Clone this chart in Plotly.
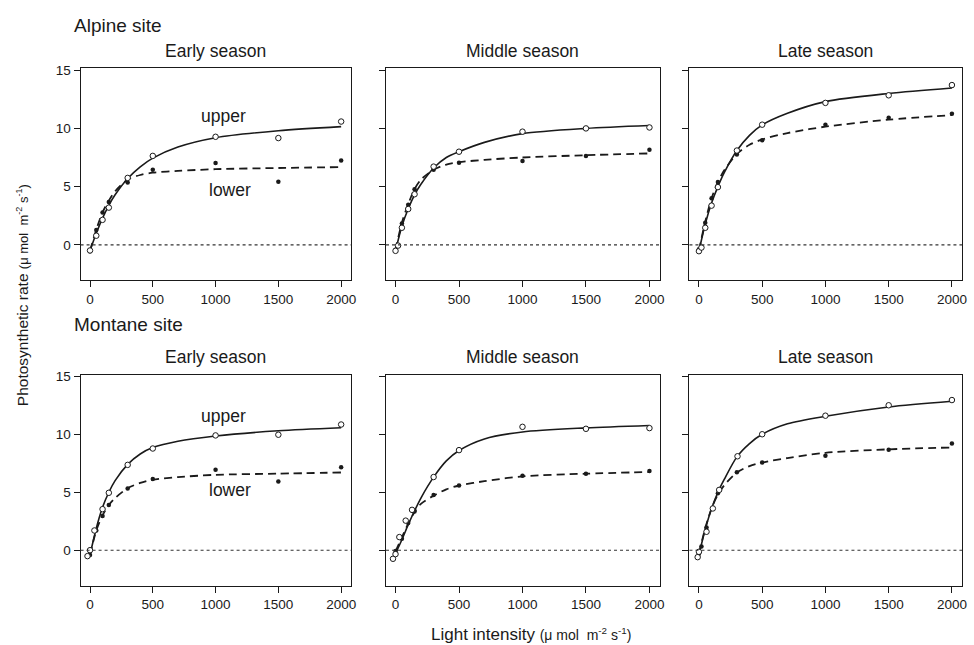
import plotly.graph_objects as go

# ---------------- data ----------------
panel_titles = ["Early season", "Middle season", "Late season",
                "Early season", "Middle season", "Late season"]
site_titles = ["Alpine site", "Montane site"]

# observed points: upper canopy (open circles) and lower canopy (filled dots)
upper_x = [
    [0, 50, 100, 150, 300, 500, 1000, 1500, 2000],
    [0, 20, 50, 100, 150, 300, 500, 1000, 1500, 2000],
    [0, 20, 50, 100, 150, 300, 500, 1000, 1500, 2000],
    [-20, 0, 35, 100, 150, 300, 500, 1000, 1500, 2000],
    [-20, 0, 30, 80, 130, 300, 500, 1000, 1500, 2000],
    [-10, 0, 60, 110, 160, 305, 500, 1000, 1500, 2000],
]
upper_y = [
    [-0.48, 0.79, 2.15, 3.2, 5.75, 7.64, 9.28, 9.17, 10.59],
    [-0.51, -0.06, 1.47, 3.08, 4.35, 6.72, 8.0, 9.72, 10.0, 10.08],
    [-0.54, -0.23, 1.47, 3.37, 4.96, 8.1, 10.32, 12.19, 12.84, 13.72],
    [-0.51, 0.0, 1.7, 3.54, 4.95, 7.36, 8.77, 9.9, 9.96, 10.84],
    [-0.74, -0.34, 1.13, 2.55, 3.48, 6.31, 8.63, 10.64, 10.47, 10.53],
    [-0.6, -0.14, 1.59, 3.6, 5.2, 8.1, 10.0, 11.6, 12.5, 12.95],
]
lower_x = [
    [0, 50, 100, 150, 300, 500, 1000, 1500, 2000],
    [0, 50, 100, 150, 300, 500, 1000, 1500, 2000],
    [0, 50, 100, 150, 300, 500, 1000, 1500, 2000],
    [0, 50, 100, 150, 300, 500, 1000, 1500, 2000],
    [0, 50, 100, 150, 300, 500, 1000, 1500, 2000],
    [0, 20, 60, 150, 300, 500, 1000, 1500, 2000],
]
lower_y = [
    [-0.54, 1.27, 2.77, 3.68, 5.35, 6.45, 7.02, 5.43, 7.25],
    [-0.42, 1.84, 3.45, 4.77, 6.44, 7.06, 7.2, 7.63, 8.16],
    [-0.37, 1.9, 4.0, 5.4, 7.77, 8.99, 10.32, 10.92, 11.26],
    [-0.42, 1.7, 2.95, 3.9, 5.32, 6.14, 6.93, 5.92, 7.16],
    [-0.06, 0.99, 2.35, 3.34, 4.76, 5.58, 6.43, 6.6, 6.82],
    [-0.3, 0.31, 1.96, 4.92, 6.73, 7.56, 8.15, 8.66, 9.2],
]

# fitted light-response curves at these light levels
curve_x = [0, 50, 100, 150, 200, 300, 400, 500, 700, 1000, 1500, 2000]
upper_fit = [
    [-0.5, 1.0, 2.3, 3.4, 4.3, 5.7, 6.7, 7.45, 8.4, 9.2, 9.8, 10.15],
    [-0.5, 1.6, 3.1, 4.3, 5.2, 6.6, 7.5, 8.0, 8.8, 9.55, 10.0, 10.25],
    [-0.55, 1.8, 3.6, 5.0, 6.2, 8.1, 9.4, 10.3, 11.3, 12.3, 13.0, 13.47],
    [-0.4, 1.9, 3.7, 5.0, 6.0, 7.4, 8.3, 8.85, 9.4, 9.85, 10.3, 10.56],
    [-0.3, 0.9, 2.2, 3.4, 4.5, 6.3, 7.7, 8.6, 9.6, 10.2, 10.55, 10.76],
    [-0.4, 1.8, 3.6, 5.0, 6.1, 8.05, 9.2, 10.0, 10.9, 11.55, 12.35, 12.84],
]
lower_fit = [
    [-0.5, 1.3, 2.8, 3.8, 4.6, 5.6, 6.0, 6.2, 6.35, 6.5, 6.6, 6.68],
    [-0.45, 1.9, 3.5, 4.8, 5.6, 6.45, 6.9, 7.1, 7.3, 7.5, 7.7, 7.85],
    [-0.5, 2.0, 4.0, 5.4, 6.4, 7.8, 8.6, 9.05, 9.6, 10.15, 10.75, 11.14],
    [-0.4, 1.7, 3.0, 3.9, 4.5, 5.35, 5.8, 6.08, 6.3, 6.5, 6.6, 6.7],
    [-0.1, 1.1, 2.3, 3.3, 4.0, 4.7, 5.25, 5.58, 5.95, 6.37, 6.6, 6.74],
    [-0.3, 1.9, 3.6, 4.8, 5.6, 6.7, 7.25, 7.56, 7.95, 8.4, 8.7, 8.86],
]

x_ticks = [0, 500, 1000, 1500, 2000]
y_ticks = [0, 5, 10, 15]

# ---------------- layout geometry (pixels) ----------------
W, H = 974, 645
cols_px = [(81, 353), (388, 663), (693, 967)]
rows_px = [(63, 277), (372, 585)]

FONT = "Liberation Sans, Arial, sans-serif"
INK = "#1a1a1a"

fig = go.Figure()
layout = dict(
    width=W, height=H, margin=dict(l=0, r=0, t=0, b=0),
    paper_bgcolor="white", plot_bgcolor="white", showlegend=False,
    font=dict(family=FONT, color=INK, size=13),
)
shapes = []
annotations = []

for i in range(6):
    r, c = divmod(i, 3)
    n = i + 1
    xa = "x" if n == 1 else f"x{n}"
    ya = "y" if n == 1 else f"y{n}"
    x0p, x1p = cols_px[c]
    y0p, y1p = rows_px[r]
    common = dict(showline=True, linecolor=INK, linewidth=1, mirror=True,
                  ticks="outside", ticklen=6, tickwidth=1, tickcolor=INK,
                  showgrid=False, zeroline=False,
                  tickfont=dict(family=FONT, size=13.5, color=INK))
    layout["xaxis" if n == 1 else f"xaxis{n}"] = dict(
        domain=[x0p / W, x1p / W], anchor=ya, range=[-75, 2080],
        tickvals=x_ticks, **common)
    layout["yaxis" if n == 1 else f"yaxis{n}"] = dict(
        domain=[1 - y1p / H, 1 - y0p / H], anchor=xa, range=[-3.05, 15.15],
        tickvals=y_ticks, showticklabels=(c == 0), **common)

    # dotted zero line across the panel
    shapes.append(dict(type="line", xref=f"{xa} domain", yref=ya,
                       x0=0, x1=1, y0=0, y1=0,
                       line=dict(color="#333", width=1.1, dash="dot")))

    fig.add_trace(go.Scatter(x=curve_x, y=lower_fit[i], mode="lines",
                             line=dict(color=INK, width=1.8, dash="8px,5px",
                                       shape="spline", smoothing=0.8),
                             xaxis=xa, yaxis=ya, hoverinfo="skip"))
    fig.add_trace(go.Scatter(x=curve_x, y=upper_fit[i], mode="lines",
                             line=dict(color=INK, width=1.6,
                                       shape="spline", smoothing=0.8),
                             xaxis=xa, yaxis=ya, hoverinfo="skip"))
    fig.add_trace(go.Scatter(x=lower_x[i], y=lower_y[i], mode="markers",
                             marker=dict(symbol="circle", size=4.5, color=INK),
                             xaxis=xa, yaxis=ya))
    fig.add_trace(go.Scatter(x=upper_x[i], y=upper_y[i], mode="markers",
                             marker=dict(symbol="circle", size=5.5, color="white",
                                         line=dict(color=INK, width=1)),
                             xaxis=xa, yaxis=ya))

    # panel title
    annotations.append(dict(text=panel_titles[i], xref="paper", yref="paper",
                            x=(x0p + x1p) / 2 / W,
                            y=1 - (y0p - 18) / H,
                            xanchor="center", yanchor="middle", showarrow=False,
                            font=dict(family=FONT, size=17.5, color=INK)))

# "upper" / "lower" labels in the early-season panels
for xa, ya, uy, ly in [("x", "y", 11.05, 4.67), ("x4", "y4", 11.55, 5.18)]:
    annotations.append(dict(text="upper", xref=xa, yref=ya, x=1060, y=uy,
                            showarrow=False, font=dict(family=FONT, size=17.5, color=INK)))
    annotations.append(dict(text="lower", xref=xa, yref=ya, x=1115, y=ly,
                            showarrow=False, font=dict(family=FONT, size=17.5, color=INK)))

# site titles
annotations.append(dict(text=site_titles[0], xref="paper", yref="paper",
                        x=72 / W, y=1 - 20 / H, xanchor="left", yanchor="middle",
                        showarrow=False, font=dict(family=FONT, size=19, color=INK)))
annotations.append(dict(text=site_titles[1], xref="paper", yref="paper",
                        x=72 / W, y=1 - 321 / H, xanchor="left", yanchor="middle",
                        showarrow=False, font=dict(family=FONT, size=19, color=INK)))

units_x = ('<span style="font-size:14px">(\u03bc mol  m<sup>-2</sup> s<sup>-1</sup>)</span>')
units_y = ('<span style="font-size:13px">(\u03bc mol  m<sup>-2</sup> s<sup>-1</sup>)</span>')
annotations.append(dict(text="Light intensity " + units_x, xref="paper", yref="paper",
                        x=534 / W, y=1 - 634 / H, xanchor="center", yanchor="middle",
                        showarrow=False, font=dict(family=FONT, size=17, color=INK)))
annotations.append(dict(text="Photosynthetic rate " + units_y, xref="paper", yref="paper",
                        x=22 / W, y=1 - 292 / H, xanchor="center", yanchor="middle",
                        textangle=-90, showarrow=False,
                        font=dict(family=FONT, size=15.5, color=INK)))

layout["shapes"] = shapes
layout["annotations"] = annotations
fig.update_layout(**layout)
fig.write_html("out.html")
